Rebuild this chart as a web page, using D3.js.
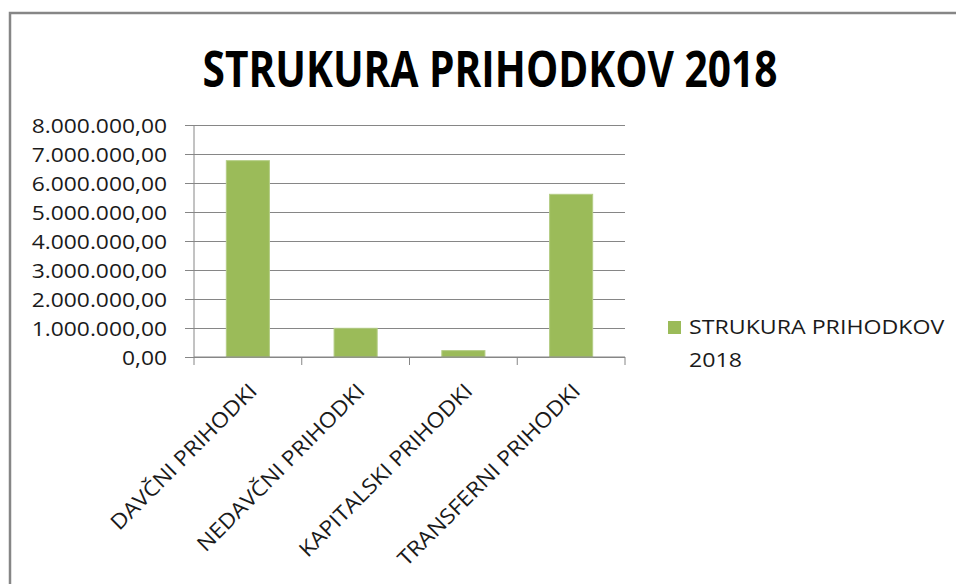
<!DOCTYPE html>
<html>
<head>
<meta charset="utf-8">
<script src="https://cdn.jsdelivr.net/npm/d3@7"></script>
<style>
  html, body { margin: 0; padding: 0; background: #fff; }
  #chart { width: 956px; height: 584px; }
  text { font-family: "Open Sans", sans-serif; fill: #1a1a1a; }
</style>
</head>
<body>
<div id="chart"></div>
<script>
const categories = ['DAVČNI PRIHODKI', 'NEDAVČNI PRIHODKI', 'KAPITALSKI PRIHODKI', 'TRANSFERNI PRIHODKI'];
const values = [6770000, 990000, 220000, 5610000];
const yTicks = [0, 1000000, 2000000, 3000000, 4000000, 5000000, 6000000, 7000000, 8000000];
const seriesName = 'STRUKURA PRIHODKOV 2018';
const chartTitle = 'STRUKURA PRIHODKOV 2018';

const width = 956, height = 584;
const margin = { top: 125, right: 331, bottom: 227, left: 194 };
const innerW = width - margin.left - margin.right;
const innerH = height - margin.top - margin.bottom;

const svg = d3.select('#chart').append('svg')
  .attr('width', width)
  .attr('height', height);

// outer frame (runs off the right and bottom edges)
svg.append('rect')
  .attr('x', 10).attr('y', 13)
  .attr('width', 960).attr('height', 600)
  .attr('fill', '#fff')
  .attr('stroke', '#868686')
  .attr('stroke-width', 2.5);

svg.append('text')
  .attr('x', 490).attr('y', 87)
  .attr('text-anchor', 'middle')
  .attr('font-size', 50)
  .attr('font-weight', 700)
  .attr('textLength', 575)
  .attr('lengthAdjust', 'spacingAndGlyphs')
  .style('fill', '#000')
  .text(chartTitle);

const g = svg.append('g')
  .attr('transform', `translate(${margin.left},${margin.top})`);

const x = d3.scaleBand().domain(categories).range([0, innerW]).paddingInner(0.6).paddingOuter(0.3);
const y = d3.scaleLinear().domain([0, 8000000]).range([innerH, 0]);

const loc = d3.formatLocale({ decimal: ',', thousands: '.', grouping: [3], currency: ['', ''] });
const fmt = loc.format(',.2f');

// widen glyphs a bit, the source font runs wider than Open Sans
function stretch(k) {
  return sel => sel.each(function () {
    const w = this.getComputedTextLength();
    d3.select(this).attr('textLength', w * k).attr('lengthAdjust', 'spacingAndGlyphs');
  });
}

// gridlines + y axis
const yAxisG = g.append('g').attr('class', 'axis y')
  .call(d3.axisLeft(y).tickValues(yTicks).tickSize(9).tickPadding(18).tickFormat(fmt));
yAxisG.select('.domain').remove();
yAxisG.selectAll('.tick line')
  .attr('x2', innerW)
  .attr('x1', -9)
  .attr('stroke', '#868686');
yAxisG.selectAll('.tick text')
  .attr('font-size', 19.5)
  .attr('dy', '0.36em')
  .style('font-family', '"Open Sans", sans-serif')
  .style('fill', '#1a1a1a')
  .call(stretch(1.17));

g.append('line')
  .attr('x1', 0).attr('x2', 0)
  .attr('y1', 0).attr('y2', innerH)
  .attr('stroke', '#868686');

// bars
g.selectAll('rect.bar')
  .data(values)
  .join('rect')
  .attr('class', 'bar')
  .attr('x', (d, i) => x(categories[i]))
  .attr('width', x.bandwidth())
  .attr('y', d => y(d))
  .attr('height', d => innerH - y(d))
  .attr('fill', '#9bbb59')
  .attr('stroke', '#b4cd85')
  .attr('stroke-width', 1);

// x axis: baseline and boundary ticks
const step = innerW / categories.length;
g.append('line')
  .attr('x1', 0).attr('x2', innerW)
  .attr('y1', innerH).attr('y2', innerH)
  .attr('stroke', '#868686');
g.selectAll('line.xtick')
  .data(d3.range(categories.length + 1))
  .join('line')
  .attr('class', 'xtick')
  .attr('x1', i => i * step).attr('x2', i => i * step)
  .attr('y1', innerH).attr('y2', innerH + 8)
  .attr('stroke', '#868686');

g.selectAll('text.xlab')
  .data(categories)
  .join('text')
  .attr('class', 'xlab')
  .attr('text-anchor', 'end')
  .attr('font-size', 21)
  .attr('dy', '0.36em')
  .attr('transform', d => `translate(${x(d) + x.bandwidth() / 2 + 5},${innerH + 30}) rotate(-45)`)
  .text(d => d)
  .call(stretch(1.1));

// legend
const lg = svg.append('g').attr('transform', 'translate(668,321)');
lg.append('rect')
  .attr('width', 13).attr('height', 13)
  .attr('fill', '#9bbb59');
const lt = lg.append('text')
  .attr('x', 21).attr('y', 12.5)
  .attr('font-size', 20.5);
lt.append('tspan').attr('x', 21).text('STRUKURA PRIHODKOV');
lt.append('tspan').attr('x', 21).attr('dy', 33).text('2018');
lt.selectAll('tspan').call(stretch(1.13));
</script>
</body>
</html>
